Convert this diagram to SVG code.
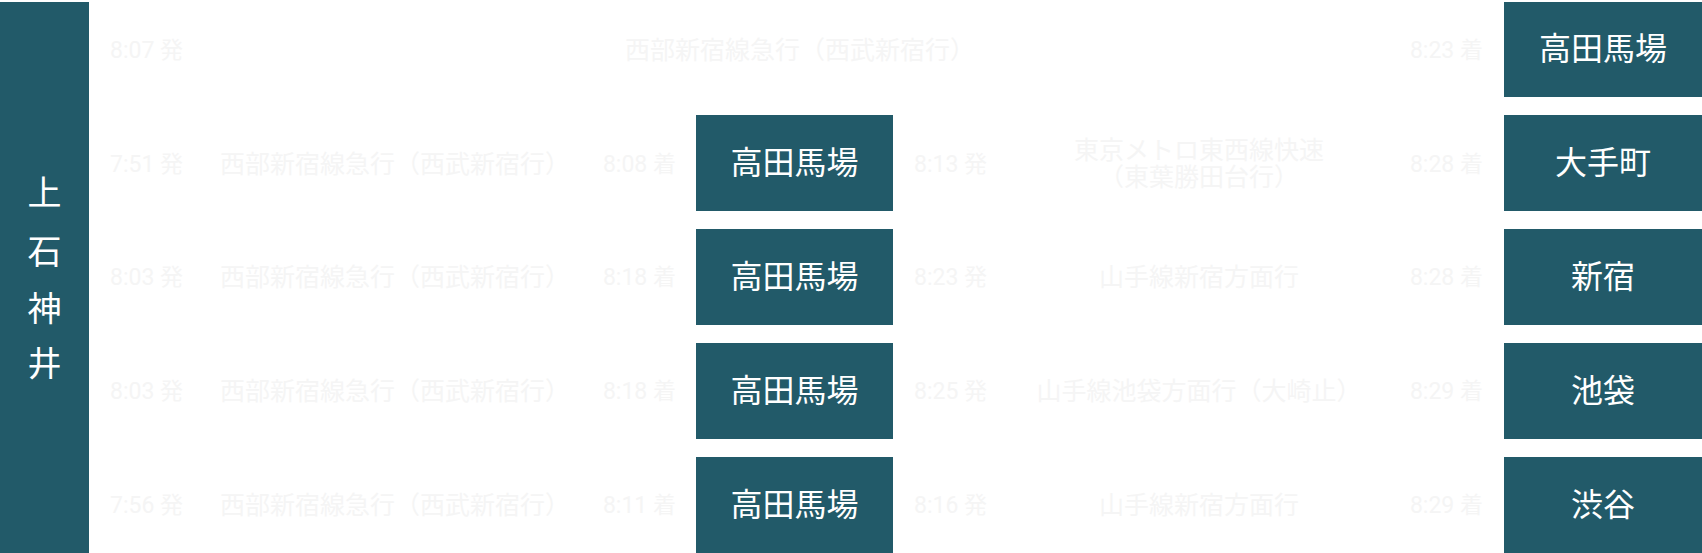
<svg xmlns="http://www.w3.org/2000/svg" width="1702" height="553" viewBox="0 0 1702 553">
<style>
.box{fill:#225a69}
.lbl{fill:#ffffff;font-family:"Liberation Serif","Noto Sans CJK JP",serif;font-size:32px;text-anchor:middle}
.vt{fill:#ffffff;font-family:"Liberation Serif","Noto Sans CJK JP",serif;font-size:34px;text-anchor:middle}
.g{fill:#f5f5f5;font-family:Roboto,"Noto Sans CJK JP",sans-serif;font-size:23px}
.m{text-anchor:middle;font-size:25px}
.e{text-anchor:end}
</style>
<rect width="1702" height="553" fill="#ffffff"/>
<g id="origin">
<rect class="box" x="0" y="2" width="89" height="551"/>
<text class="vt" x="44.5" y="205">上</text>
<text class="vt" x="44.5" y="264">石</text>
<text class="vt" x="44.5" y="321">神</text>
<text class="vt" x="44.5" y="376">井</text>
</g>
<g id="transfer1"><rect class="box" x="696" y="115" width="197" height="96"/><text class="lbl" x="794.5" y="174">高田馬場</text></g>
<g id="transfer2"><rect class="box" x="696" y="229" width="197" height="96"/><text class="lbl" x="794.5" y="288">高田馬場</text></g>
<g id="transfer3"><rect class="box" x="696" y="343" width="197" height="96"/><text class="lbl" x="794.5" y="402">高田馬場</text></g>
<g id="transfer4"><rect class="box" x="696" y="457" width="197" height="96"/><text class="lbl" x="794.5" y="516">高田馬場</text></g>
<g id="dest0"><rect class="box" x="1504" y="2" width="198" height="95"/><text class="lbl" x="1603" y="60">高田馬場</text></g>
<g id="dest1"><rect class="box" x="1504" y="115" width="198" height="96"/><text class="lbl" x="1603" y="174">大手町</text></g>
<g id="dest2"><rect class="box" x="1504" y="229" width="198" height="96"/><text class="lbl" x="1603" y="288">新宿</text></g>
<g id="dest3"><rect class="box" x="1504" y="343" width="198" height="96"/><text class="lbl" x="1603" y="402">池袋</text></g>
<g id="dest4"><rect class="box" x="1504" y="457" width="198" height="96"/><text class="lbl" x="1603" y="516">渋谷</text></g>
<g id="connectors">
<g id="route0">
<text class="g" x="110" y="58">8:07 発</text>
<text class="g m" x="800" y="59">西部新宿線急行（西武新宿行）</text>
<text class="g e" x="1483" y="58">8:23 着</text>
</g>
<g id="route1">
<text class="g" x="110" y="172">7:51 発</text>
<text class="g m" x="395" y="173">西部新宿線急行（西武新宿行）</text>
<text class="g e" x="676" y="172">8:08 着</text>
<text class="g" x="914" y="172">8:13 発</text>
<text class="g m" x="1199" y="159">東京メトロ東西線快速</text>
<text class="g m" x="1199" y="186">（東葉勝田台行）</text>
<text class="g e" x="1483" y="172">8:28 着</text>
</g>
<g id="route2">
<text class="g" x="110" y="285">8:03 発</text>
<text class="g m" x="395" y="286">西部新宿線急行（西武新宿行）</text>
<text class="g e" x="676" y="285">8:18 着</text>
<text class="g" x="914" y="285">8:23 発</text>
<text class="g m" x="1199" y="286">山手線新宿方面行</text>
<text class="g e" x="1483" y="285">8:28 着</text>
</g>
<g id="route3">
<text class="g" x="110" y="399">8:03 発</text>
<text class="g m" x="395" y="400">西部新宿線急行（西武新宿行）</text>
<text class="g e" x="676" y="399">8:18 着</text>
<text class="g" x="914" y="399">8:25 発</text>
<text class="g m" x="1199" y="400">山手線池袋方面行（大崎止）</text>
<text class="g e" x="1483" y="399">8:29 着</text>
</g>
<g id="route4">
<text class="g" x="110" y="513">7:56 発</text>
<text class="g m" x="395" y="514">西部新宿線急行（西武新宿行）</text>
<text class="g e" x="676" y="513">8:11 着</text>
<text class="g" x="914" y="513">8:16 発</text>
<text class="g m" x="1199" y="514">山手線新宿方面行</text>
<text class="g e" x="1483" y="513">8:29 着</text>
</g>
</g>
</svg>
